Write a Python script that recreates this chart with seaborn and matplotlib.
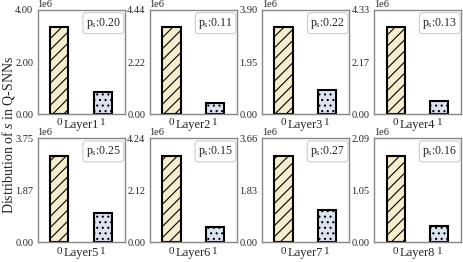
import numpy as np
import pandas as pd
import matplotlib
matplotlib.use("Agg")
import matplotlib.pyplot as plt
import seaborn as sns

# ---- data ----
layers = ["Layer1", "Layer2", "Layer3", "Layer4", "Layer5", "Layer6", "Layer7", "Layer8"]
states = [0, 1]
count_zero = [3.33e6, 3.70e6, 3.25e6, 3.61e6, 3.12e6, 3.53e6, 3.05e6, 1.74e6]
count_one = [0.85e6, 0.46e6, 0.92e6, 0.54e6, 1.04e6, 0.62e6, 1.13e6, 0.33e6]
ps_values = [0.20, 0.11, 0.22, 0.13, 0.25, 0.15, 0.27, 0.16]
ytop_labels = ["4.00", "4.44", "3.90", "4.33", "3.75", "4.24", "3.66", "2.09"]
ymid_labels = ["2.00", "2.22", "1.95", "2.17", "1.87", "2.12", "1.83", "1.05"]
ytop_values = [4.00e6, 4.44e6, 3.90e6, 4.33e6, 3.75e6, 4.24e6, 3.66e6, 2.09e6]

sns.set_style("white")
plt.rcParams["font.family"] = ["Liberation Serif", "DejaVu Serif"]
plt.rcParams["mathtext.fontset"] = "custom"
plt.rcParams["mathtext.rm"] = "Liberation Serif"
plt.rcParams["mathtext.it"] = "Liberation Serif:italic"
plt.rcParams["hatch.linewidth"] = 0.8

fill_colors = ["#fdf0c8", "#d9e2f2"]
hatches = ["///", "..."]

fig, axes = plt.subplots(2, 4, figsize=(4.63, 2.62), dpi=100)
fig.subplots_adjust(left=0.081, right=0.996, top=0.962, bottom=0.075,
                    wspace=0.285, hspace=0.23)

for i, ax in enumerate(axes.flat):
    df = pd.DataFrame({"state": states, "count": [count_zero[i], count_one[i]]})
    sns.barplot(data=df, x="state", y="count", hue="state", palette=fill_colors,
                width=0.42, legend=False, ax=ax, edgecolor="black", linewidth=1.5)
    for p, h in zip(ax.patches, hatches):
        p.set_hatch(h)
    ax.set_xlim(-0.5, 1.5)
    ax.set_ylim(0, ytop_values[i])
    ax.set_yticks([0, ytop_values[i] / 2, ytop_values[i]])
    ax.set_yticklabels(["0.00", ymid_labels[i], ytop_labels[i]], fontsize=7.5)
    ax.set_xticks([0, 1])
    ax.set_xticklabels(["0", "1"], fontsize=8)
    ax.tick_params(axis="both", length=2, width=0.6, color="#888888", pad=1)
    ax.set_xlabel(layers[i], fontsize=9, labelpad=-6)
    ax.set_ylabel("")
    for s in ax.spines.values():
        s.set_color("#888888")
        s.set_linewidth(1.0)
    ax.text(0.0, 1.01, "1e6", transform=ax.transAxes, fontsize=7.5,
            ha="left", va="bottom")
    ax.text(0.955, 0.945, "p$_\\mathrm{s}$:%.2f" % ps_values[i], transform=ax.transAxes,
            fontsize=8.5, ha="right", va="top",
            bbox=dict(boxstyle="round,pad=0.25", fc="white", ec="#cccccc", lw=0.8))

fig.text(0.0175, 0.485, "Distribution of $s$ in Q-SNNs", rotation=90,
         ha="center", va="center", fontsize=10)

fig.savefig("out.png", dpi=100)
